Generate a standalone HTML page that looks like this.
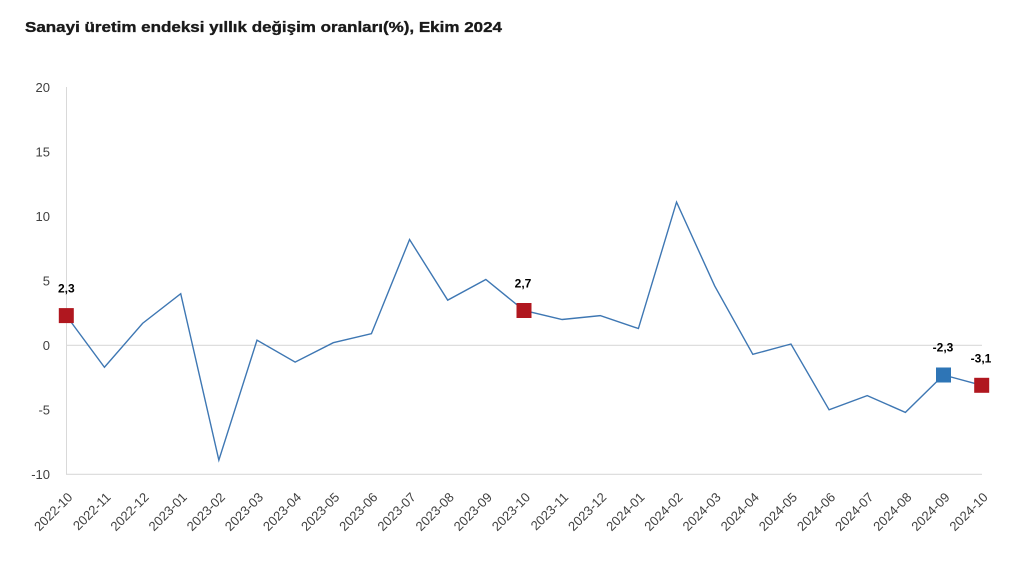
<!DOCTYPE html>
<html>
<head>
<meta charset="utf-8">
<style>
  html, body { margin: 0; padding: 0; background: #ffffff; }
  body { width: 1015px; height: 585px; overflow: hidden; }
  svg { display: block; }
  .ylab { font-family: "Liberation Sans", "DejaVu Sans", sans-serif; font-size: 13px; fill: #404040; }
  .xlab { font-family: "Liberation Sans", "DejaVu Sans", sans-serif; font-size: 13px; fill: #404040; }
  .dl { font-family: "Liberation Sans", "DejaVu Sans", sans-serif; font-size: 12px; font-weight: bold; fill: #000; }
</style>
</head>
<body>
<svg width="1015" height="585" viewBox="0 0 1015 585" xmlns="http://www.w3.org/2000/svg">
  <rect width="1015" height="585" fill="#ffffff"/>
  <text x="25" y="32" font-family="Liberation Sans, DejaVu Sans, sans-serif" font-size="15" font-weight="bold" fill="#1a1a1a" stroke="#1a1a1a" stroke-width="0.35" textLength="477" lengthAdjust="spacingAndGlyphs">Sanayi üretim endeksi yıllık değişim oranları(%), Ekim 2024</text>

  <!-- axes / gridlines -->
  <line x1="66.5" y1="87" x2="66.5" y2="474.3" stroke="#d9d9d9" stroke-width="1"/>
  <line x1="66" y1="345.3" x2="982" y2="345.3" stroke="#d9d9d9" stroke-width="1.2"/>
  <line x1="66" y1="474.3" x2="982" y2="474.3" stroke="#d9d9d9" stroke-width="1.2"/>

  <!-- y labels -->
  <g class="ylab" text-anchor="end">
    <text x="50" y="91.8">20</text>
    <text x="50" y="156.3">15</text>
    <text x="50" y="220.8">10</text>
    <text x="50" y="285.3">5</text>
    <text x="50" y="349.8">0</text>
    <text x="50" y="414.3">-5</text>
    <text x="50" y="478.8">-10</text>
  </g>

  <!-- series line -->
  <polyline fill="none" stroke="#3e77b3" stroke-width="1.4" stroke-linejoin="miter"
    points="66.3,315.63 104.44,367.23 142.58,323.37 180.72,293.7 218.86,460.11 257,340.14 295.14,362.07 333.28,342.72 371.42,333.69 409.56,239.52 447.7,300.15 485.84,279.51 523.98,310.47 562.12,319.5 600.26,315.63 638.4,328.53 676.54,202.11 714.68,285.96 752.82,354.33 790.96,344.01 829.1,409.8 867.24,395.61 905.38,412.38 943.52,374.97 981.66,385.29"/>

  <!-- markers -->
  <rect x="58.8" y="308.1" width="15" height="15" fill="#b0171f"/>
  <rect x="516.5" y="303" width="15" height="15" fill="#b0171f"/>
  <rect x="936" y="367.5" width="15" height="15" fill="#2e75b6"/>
  <rect x="974.2" y="377.8" width="15" height="15" fill="#b0171f"/>

  <!-- data labels -->
  <g class="dl" text-anchor="middle">
    <text x="66.3" y="292.5">2,3</text>
    <text x="523" y="287.5">2,7</text>
    <text x="943" y="351.3">-2,3</text>
    <text x="981" y="362.3">-3,1</text>
  </g>

  <!-- x labels -->
  <g class="xlab" text-anchor="end">
    <text transform="translate(73.3,498) rotate(-45)">2022-10</text>
    <text transform="translate(111.44,498) rotate(-45)">2022-11</text>
    <text transform="translate(149.58,498) rotate(-45)">2022-12</text>
    <text transform="translate(187.72,498) rotate(-45)">2023-01</text>
    <text transform="translate(225.86,498) rotate(-45)">2023-02</text>
    <text transform="translate(264,498) rotate(-45)">2023-03</text>
    <text transform="translate(302.14,498) rotate(-45)">2023-04</text>
    <text transform="translate(340.28,498) rotate(-45)">2023-05</text>
    <text transform="translate(378.42,498) rotate(-45)">2023-06</text>
    <text transform="translate(416.56,498) rotate(-45)">2023-07</text>
    <text transform="translate(454.7,498) rotate(-45)">2023-08</text>
    <text transform="translate(492.84,498) rotate(-45)">2023-09</text>
    <text transform="translate(530.98,498) rotate(-45)">2023-10</text>
    <text transform="translate(569.12,498) rotate(-45)">2023-11</text>
    <text transform="translate(607.26,498) rotate(-45)">2023-12</text>
    <text transform="translate(645.4,498) rotate(-45)">2024-01</text>
    <text transform="translate(683.54,498) rotate(-45)">2024-02</text>
    <text transform="translate(721.68,498) rotate(-45)">2024-03</text>
    <text transform="translate(759.82,498) rotate(-45)">2024-04</text>
    <text transform="translate(797.96,498) rotate(-45)">2024-05</text>
    <text transform="translate(836.1,498) rotate(-45)">2024-06</text>
    <text transform="translate(874.24,498) rotate(-45)">2024-07</text>
    <text transform="translate(912.38,498) rotate(-45)">2024-08</text>
    <text transform="translate(950.52,498) rotate(-45)">2024-09</text>
    <text transform="translate(988.66,498) rotate(-45)">2024-10</text>
  </g>
</svg>
</body>
</html>
